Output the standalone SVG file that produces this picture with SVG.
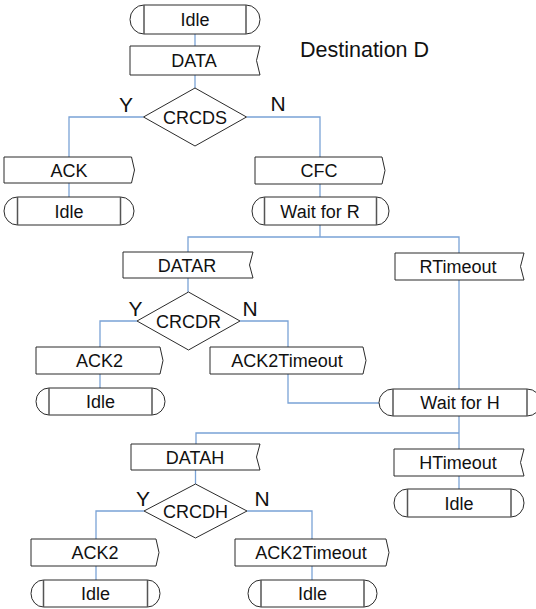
<svg xmlns="http://www.w3.org/2000/svg" width="536" height="609" viewBox="0 0 536 609">
  <style>
    .shape { fill: #ffffff; stroke: #2b2b2b; stroke-width: 1; }
    .bar { stroke: #555555; stroke-width: 1.5; fill: none; }
    .lbl { font-family: "Liberation Sans", Arial, sans-serif; font-size: 18px; fill: #111111; text-anchor: middle; }
    .yn { font-family: "Liberation Sans", Arial, sans-serif; font-size: 21px; fill: #111111; text-anchor: middle; }
    .title { font-family: "Liberation Sans", Arial, sans-serif; font-size: 21.5px; fill: #111111; }
    .wire { fill: none; stroke: #7aa3d6; stroke-width: 1.3; }
  </style>
  <rect width="536" height="609" fill="#ffffff"/>

  <!-- connectors -->
  <g id="connectors">
    <path class="wire" d="M195,34 V46"/>
    <path class="wire" d="M195,75 V88"/>
    <path class="wire" d="M143.5,117 H69 V157"/>
    <path class="wire" d="M69,183 V197"/>
    <path class="wire" d="M246.5,117 H320 V157"/>
    <path class="wire" d="M320,184 V197"/>
    <path class="wire" d="M320,225 V237"/>
    <path class="wire" d="M188,252 V237 H459 V253"/>
    <path class="wire" d="M188,278 V292"/>
    <path class="wire" d="M137,321 H100 V347"/>
    <path class="wire" d="M100,374 V388"/>
    <path class="wire" d="M240,321 H288 V347"/>
    <path class="wire" d="M288,374 V403 H379"/>
    <path class="wire" d="M459,280 V389"/>
    <path class="wire" d="M459,416 V449"/>
    <path class="wire" d="M196,444 V433 H459"/>
    <path class="wire" d="M195.5,470 V484"/>
    <path class="wire" d="M144,511 H96 V539"/>
    <path class="wire" d="M96,566 V580"/>
    <path class="wire" d="M247,511 H312 V539"/>
    <path class="wire" d="M312,566 V580"/>
    <path class="wire" d="M459,476 V489"/>
  </g>

  <!-- title -->
  <text class="title" x="300" y="56.5">Destination D</text>

  <!-- decision branch labels -->
  <text class="yn" x="126" y="111.5">Y</text>
  <text class="yn" x="278" y="111">N</text>
  <text class="yn" x="135.5" y="316">Y</text>
  <text class="yn" x="250" y="316">N</text>
  <text class="yn" x="143" y="506">Y</text>
  <text class="yn" x="262" y="506">N</text>

  <!-- states -->
  <g id="idle_top">
    <path class="shape" d="M144,5 H246 A14,14.5 0 0 1 246,34 H144 A14,14.5 0 0 1 144,5 Z"/>
    <path class="bar" d="M144,5 V34 M246,5 V34"/>
    <text class="lbl" x="195" y="26">Idle</text>
  </g>

  <g id="data">
    <path class="shape" d="M130,46 H260 L256.5,60.5 L260,75 H130 Z"/>
    <text class="lbl" x="194" y="67">DATA</text>
  </g>

  <g id="crcds">
    <path class="shape" d="M195,88 L246.5,117 L195,146 L143.5,117 Z"/>
    <text class="lbl" x="195" y="123.5">CRCDS</text>
  </g>

  <g id="ack">
    <path class="shape" d="M4,157 H131.5 L134.5,170 L131.5,183 H4 Z"/>
    <text class="lbl" x="69" y="176.5">ACK</text>
  </g>

  <g id="idle_ack">
    <path class="shape" d="M17.5,197 H120.5 A13.5,14 0 0 1 120.5,225 H17.5 A13.5,14 0 0 1 17.5,197 Z"/>
    <path class="bar" d="M17.5,197 V225 M120.5,197 V225"/>
    <text class="lbl" x="69" y="217.5">Idle</text>
  </g>

  <g id="cfc">
    <path class="shape" d="M255,157 H382 L385,170.5 L382,184 H255 Z"/>
    <text class="lbl" x="319" y="177">CFC</text>
  </g>

  <g id="wait_r">
    <path class="shape" d="M264.5,197 H376.5 A12.5,14 0 0 1 376.5,225 H264.5 A12.5,14 0 0 1 264.5,197 Z"/>
    <path class="bar" d="M264.5,197 V225 M376.5,197 V225"/>
    <text class="lbl" x="320" y="217.5">Wait for R</text>
  </g>

  <g id="datar">
    <path class="shape" d="M123,252 H253 L249.5,265 L253,278 H123 Z"/>
    <text class="lbl" x="187" y="271.5">DATAR</text>
  </g>

  <g id="crcdr">
    <path class="shape" d="M188.5,292 L240,321 L188.5,350 L137,321 Z"/>
    <text class="lbl" x="188.5" y="327.5">CRCDR</text>
  </g>

  <g id="ack2_r">
    <path class="shape" d="M36,347 H160 L163,360.5 L160,374 H36 Z"/>
    <text class="lbl" x="99.5" y="367">ACK2</text>
  </g>

  <g id="idle_ack2_r">
    <path class="shape" d="M49,388 H152 A13,13.5 0 0 1 152,415 H49 A13,13.5 0 0 1 49,388 Z"/>
    <path class="bar" d="M49,388 V415 M152,388 V415"/>
    <text class="lbl" x="100.5" y="408">Idle</text>
  </g>

  <g id="ack2timeout_r">
    <path class="shape" d="M210,347 H363 L366,360.5 L363,374 H210 Z"/>
    <text class="lbl" x="287" y="367">ACK2Timeout</text>
  </g>

  <g id="rtimeout">
    <path class="shape" d="M395,253 H524 L520.5,266.5 L524,280 H395 Z"/>
    <text class="lbl" x="458" y="273">RTimeout</text>
  </g>

  <g id="wait_h">
    <path class="shape" d="M393,389 H527 A14,13.5 0 0 1 527,416 H393 A14,13.5 0 0 1 393,389 Z"/>
    <path class="bar" d="M393,389 V416 M527,389 V416"/>
    <text class="lbl" x="460" y="409">Wait for H</text>
  </g>

  <g id="datah">
    <path class="shape" d="M131,444 H260 L256.5,457 L260,470 H131 Z"/>
    <text class="lbl" x="195" y="463.5">DATAH</text>
  </g>

  <g id="crcdh">
    <path class="shape" d="M195.5,484 L247,511 L195.5,538 L144,511 Z"/>
    <text class="lbl" x="195.5" y="517.5">CRCDH</text>
  </g>

  <g id="ack2_h">
    <path class="shape" d="M31,539 H156 L159,552.5 L156,566 H31 Z"/>
    <text class="lbl" x="95" y="559">ACK2</text>
  </g>

  <g id="idle_ack2_h">
    <path class="shape" d="M43.5,580 H147.5 A12.5,13.5 0 0 1 147.5,607 H43.5 A12.5,13.5 0 0 1 43.5,580 Z"/>
    <path class="bar" d="M43.5,580 V607 M147.5,580 V607"/>
    <text class="lbl" x="95.5" y="600">Idle</text>
  </g>

  <g id="ack2timeout_h">
    <path class="shape" d="M235,539 H386 L389,552.5 L386,566 H235 Z"/>
    <text class="lbl" x="311" y="559">ACK2Timeout</text>
  </g>

  <g id="idle_ack2timeout_h">
    <path class="shape" d="M261,580 H364 A13,13.5 0 0 1 364,607 H261 A13,13.5 0 0 1 261,580 Z"/>
    <path class="bar" d="M261,580 V607 M364,580 V607"/>
    <text class="lbl" x="312.5" y="600">Idle</text>
  </g>

  <g id="htimeout">
    <path class="shape" d="M394,449 H524 L520.5,462.5 L524,476 H394 Z"/>
    <text class="lbl" x="458" y="469">HTimeout</text>
  </g>

  <g id="idle_htimeout">
    <path class="shape" d="M407.5,489 H511 A13,14 0 0 1 511,517 H407.5 A13.5,14 0 0 1 407.5,489 Z"/>
    <path class="bar" d="M407.5,489 V517 M511,489 V517"/>
    <text class="lbl" x="459" y="509.5">Idle</text>
  </g>
</svg>
